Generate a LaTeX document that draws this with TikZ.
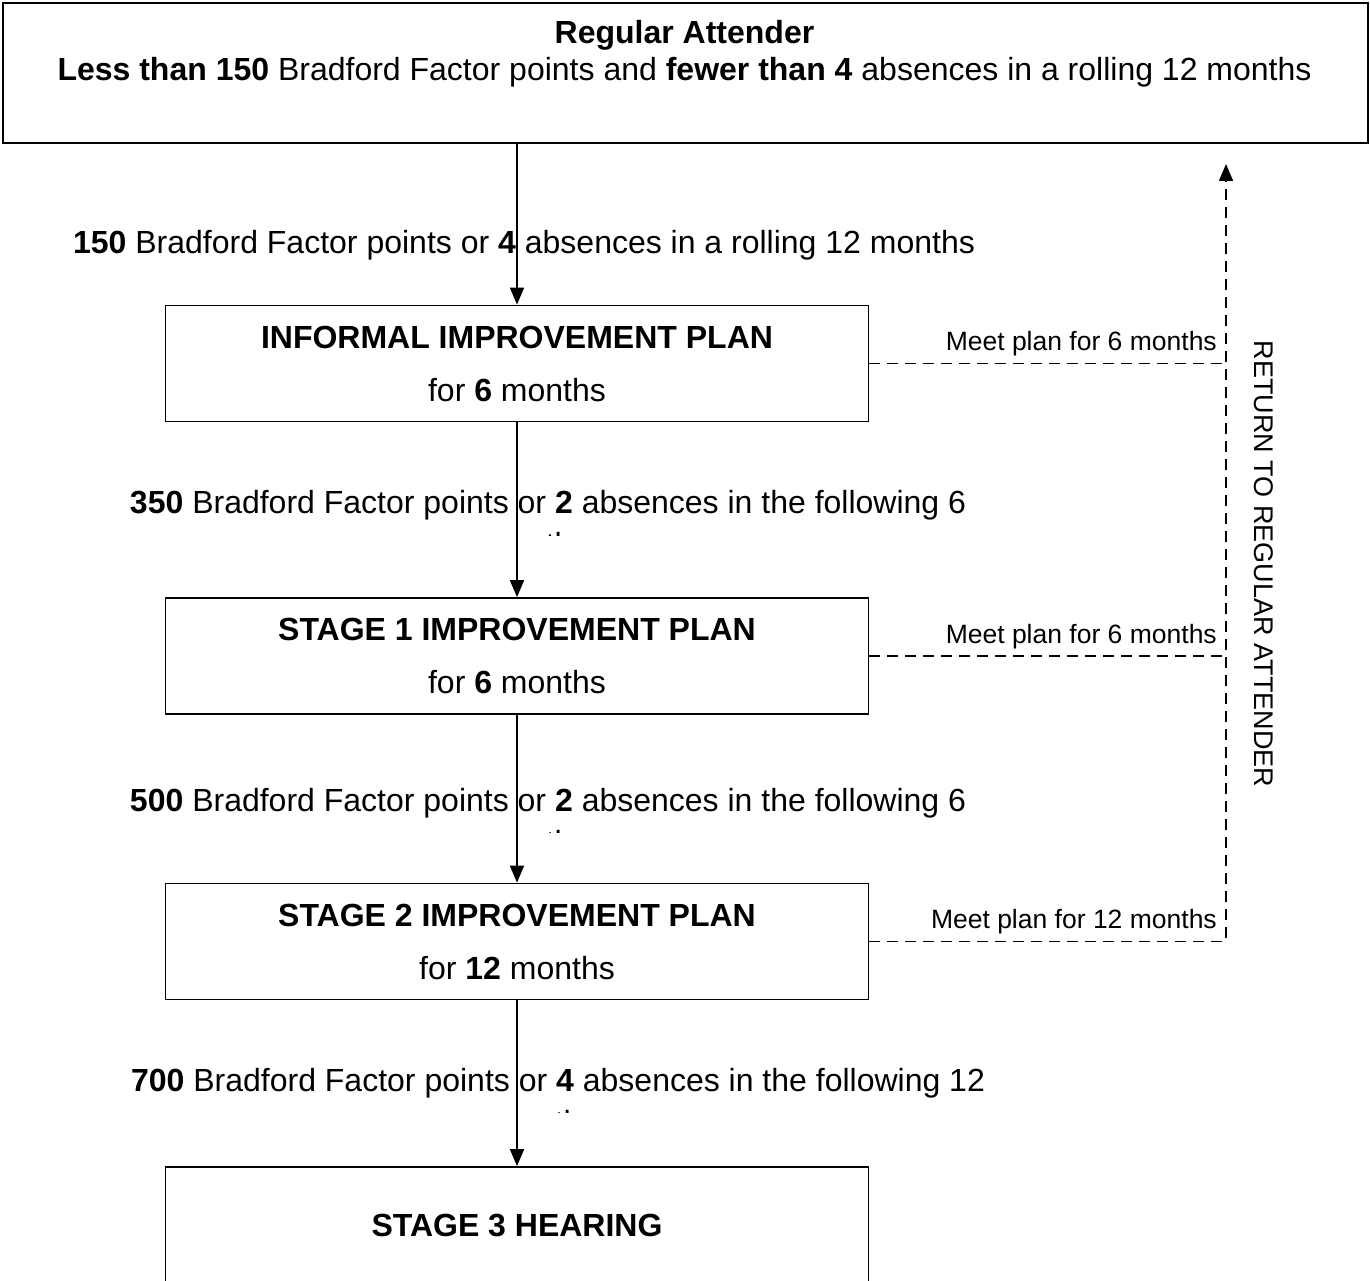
\documentclass[tikz,border=0pt]{standalone}
\usepackage{fontspec}
\setmainfont{Liberation Sans}
\usetikzlibrary{arrows.meta}
\newcommand{\bigsize}{\fontsize{32}{37}\selectfont}
\newcommand{\smallsize}{\fontsize{26.5}{31}\selectfont}
\begin{document}
\begin{tikzpicture}[x=1pt,y=-1pt,line width=1.8pt,
  box/.style={draw,minimum width=703pt,minimum height=116pt,align=center,inner sep=0pt},
  flow/.style={-{Triangle[width=14pt,length=17pt]}},
  back/.style={dash pattern=on 11pt off 7pt},
  meet/.style={font=\smallsize,anchor=base east}]
\tikzstyle{every node}=[font=\bigsize]
\useasboundingbox (0,0) rectangle (1370,1281);
	% regular attender
	\node[draw,minimum width=1365pt,minimum height=140pt,anchor=north west,inner sep=0pt] (reg) at (2,2) {};
	\node[align=center] (regtxt) at (684.5,53.5) {\textbf{Regular Attender}\\\textbf{Less than 150} Bradford Factor points and \textbf{fewer than 4} absences in a rolling 12 months};
	% stages
	\node[box] (inf) at (517,363.5) {\textbf{INFORMAL IMPROVEMENT PLAN}\\[16pt]for \textbf{6} months};
	\node[box] (st1) at (517,656) {\textbf{STAGE 1 IMPROVEMENT PLAN}\\[16pt]for \textbf{6} months};
	\node[box] (st2) at (517,941.5) {\textbf{STAGE 2 IMPROVEMENT PLAN}\\[16pt]for \textbf{12} months};
	\node[box] (st3) at (517,1225) {\textbf{STAGE 3 HEARING}};
	% triggers
	\node (c1) at (524,245) {\textbf{150} Bradford Factor points or \textbf{4} absences in a rolling 12 months};
	\begin{scope}
	\clip (0,440) rectangle (1370,535);
	\node (c2) at (548,505) {\textbf{350} Bradford Factor points or \textbf{2} absences in the following 6};
	\node (c2m) at (536,544) {months};
	\end{scope}
	\begin{scope}
	\clip (0,730) rectangle (1370,832);
	\node (c3) at (548,803) {\textbf{500} Bradford Factor points or \textbf{2} absences in the following 6};
	\node (c3m) at (536,842) {months};
	\end{scope}
	\begin{scope}
	\clip (0,1010) rectangle (1370,1112);
	\node (c4) at (558,1083) {\textbf{700} Bradford Factor points or \textbf{4} absences in the following 12};
	\node (c4m) at (545,1122) {months};
	\end{scope}
	\draw[flow] (reg.south -| inf.north) -- (inf.north);
	\draw[flow] (inf) -- (st1);
	\draw[flow] (st1) -- (st2);
	\draw[flow] (st2) -- (st3);
	% way back
	\coordinate (up) at (1226,164);
	\draw[back] (inf.east) -- (inf.east -| up);
	\draw[back] (st1.east) -- (st1.east -| up);
	\draw[back,flow] (st2.east) -- (st2.east -| up) -- (up);
	\node[meet] (m1) at ([xshift=-5pt,yshift=13pt]inf.east -| up) {Meet plan for 6 months};
	\node[meet] (m2) at ([xshift=-5pt,yshift=13pt]st1.east -| up) {Meet plan for 6 months};
	\node[meet] (m3) at ([xshift=-5pt,yshift=13pt]st2.east -| up) {Meet plan for 12 months};
	\node[font=\fontsize{27}{31}\selectfont,rotate=-90] (ret) at (1264,564) {RETURN TO REGULAR ATTENDER};
\end{tikzpicture}
\end{document}
